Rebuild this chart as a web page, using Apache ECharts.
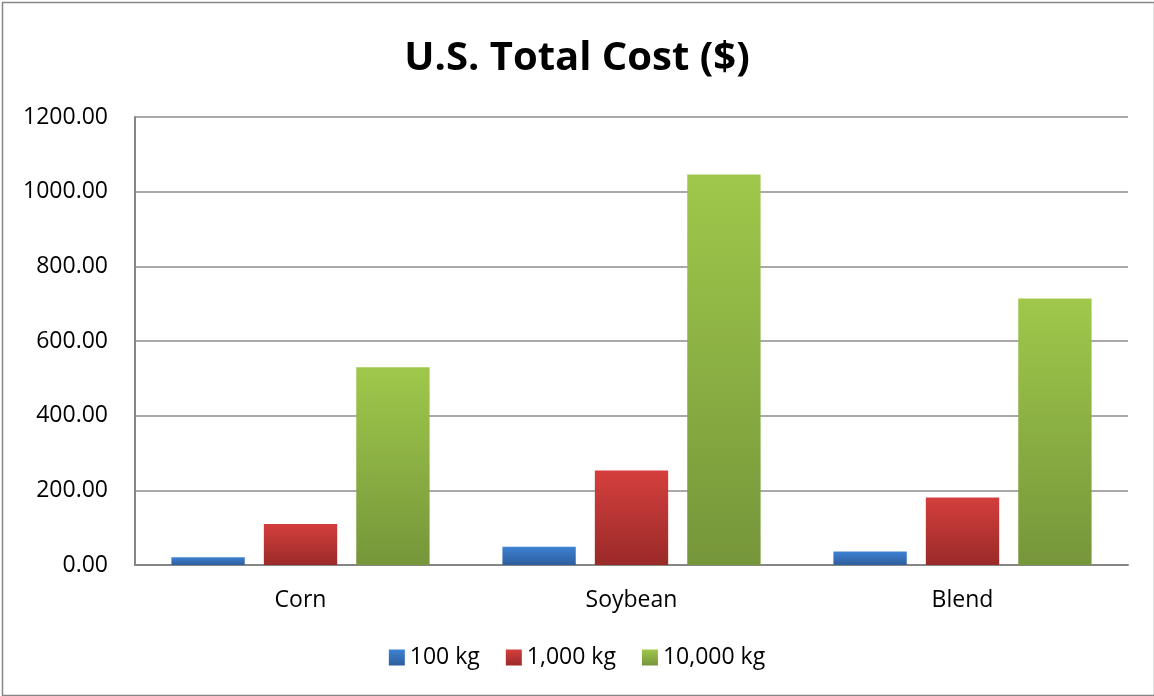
<!DOCTYPE html>
<html>
<head>
<meta charset="utf-8">
<script src="https://cdn.jsdelivr.net/npm/echarts@6/dist/echarts.min.js"></script>
<style>
html,body{margin:0;padding:0;background:#fff;}
#c{width:1154px;height:696px;}
</style>
</head>
<body>
<div id="c"></div>
<script>
const categories = ['Corn', 'Soybean', 'Blend'];
const seriesNames = ['100 kg', '1,000 kg', '10,000 kg'];
const v100 = [21, 49, 36];
const v1000 = [110, 253, 181];
const v10000 = [530, 1046, 714];
const yTicks = { min: 0, max: 1200, interval: 200 };

const grads = [
  ['#3d82d4', '#2e5e9c'],
  ['#d43f3d', '#9a2a28'],
  ['#9fc84b', '#76963a']
];
function grad(i) {
  return new echarts.graphic.LinearGradient(0, 0, 0, 1, [
    { offset: 0, color: grads[i][0] },
    { offset: 1, color: grads[i][1] }
  ]);
}
const font = '"Open Sans", "Liberation Sans", sans-serif';
const chart = echarts.init(document.getElementById('c'), null, { renderer: 'canvas' });
const data = [v100, v1000, v10000];
chart.setOption({
  animation: false,
  backgroundColor: '#fff',
  title: {
    text: 'U.S. Total Cost ($)',
    left: 'center',
    top: 34,
    textStyle: { fontFamily: font, fontWeight: 'bold', fontSize: 40, color: '#000' }
  },
  legend: {
    bottom: 22,
    left: 'center',
    itemWidth: 16,
    itemHeight: 16,
    itemGap: 26,
    icon: 'rect',
    textStyle: { fontFamily: font, fontSize: 23, color: '#000' },
    data: seriesNames
  },
  grid: { left: 135, right: 26, top: 117, bottom: 131 },
  xAxis: {
    type: 'category',
    data: categories,
    axisLine: { lineStyle: { color: '#868686', width: 2 } },
    axisTick: { show: false },
    axisLabel: { fontFamily: font, fontSize: 23, color: '#000', margin: 24 }
  },
  yAxis: {
    type: 'value',
    min: yTicks.min,
    max: yTicks.max,
    interval: yTicks.interval,
    axisLine: { show: true, lineStyle: { color: '#868686', width: 2 } },
    axisTick: { show: false },
    splitLine: { lineStyle: { color: '#8c8c8c', width: 1.5 } },
    axisLabel: { fontFamily: font, fontSize: 23, color: '#000', margin: 27, formatter: v => v.toFixed(2) }
  },
  series: seriesNames.map((n, i) => ({
    name: n,
    type: 'bar',
    data: data[i],
    barGap: '26%',
    barCategoryGap: '22%',
    itemStyle: { color: grad(i) }
  })),
  graphic: [{
    type: 'rect',
    left: 0, top: 0,
    shape: { width: 1152, height: 693 },
    style: { fill: 'none', stroke: '#868686', lineWidth: 1.5 },
    silent: true
  }]
});
</script>
</body>
</html>
